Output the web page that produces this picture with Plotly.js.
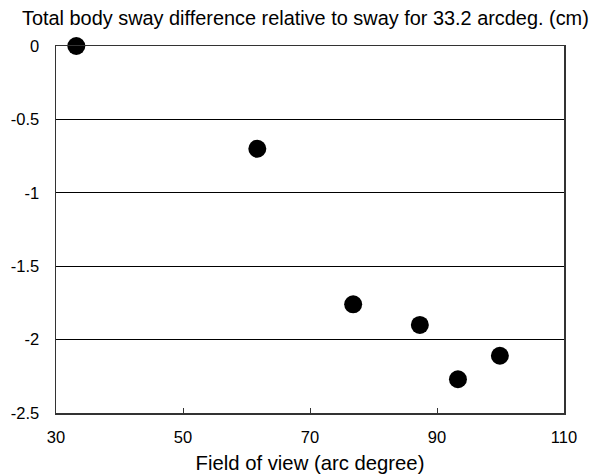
<!DOCTYPE html>
<html>
<head>
<meta charset="utf-8">
<script src="https://cdn.plot.ly/plotly-3.0.1.min.js"></script>
<style>html,body{margin:0;padding:0;background:#fff;}#chart{width:596px;height:474px;}</style>
</head>
<body>
<div id="chart"></div>
<script>
const fieldOfView = [33.2, 61.7, 76.8, 87.3, 93.3, 99.9];
const swayDiff = [0, -0.70, -1.76, -1.90, -2.27, -2.11];
const xTicks = [30, 50, 70, 90, 110];
const yTicks = [0, -0.5, -1, -1.5, -2, -2.5];

const font = "Arial, 'Liberation Sans', sans-serif";
Plotly.newPlot('chart', [{
  x: fieldOfView, y: swayDiff, type: 'scatter', mode: 'markers',
  marker: {size: 18, color: '#000'}, cliponaxis: false, hoverinfo: 'skip'
}], {
  width: 596, height: 474,
  margin: {l: 56, r: 32, t: 46, b: 61},
  paper_bgcolor: '#fff', plot_bgcolor: '#fff',
  showlegend: false,
  font: {family: font, size: 16, color: '#000'},
  title: {text: 'Total body sway difference relative to sway for 33.2 arcdeg. (cm)',
          xref: 'container', x: 22/596, xanchor: 'left',
          yref: 'container', y: 1 - 18.5/474, yanchor: 'middle',
          font: {family: font, size: 19.9, color: '#000'}},
  xaxis: {range: [30, 110], tickvals: xTicks, ticktext: xTicks.map(String),
          ticks: 'inside', ticklen: 5, tickcolor: '#333', tickwidth: 1,
          showline: true, linecolor: '#333', linewidth: 1.5, mirror: true,
          showgrid: false, zeroline: false, tickfont: {size: 16.5},
          ticklabelstandoff: 9, automargin: false,
          title: {text: 'Field of view (arc degree)', font: {size: 20.3}, standoff: 12}},
  yaxis: {range: [-2.5, 0], tickvals: yTicks, ticktext: yTicks.map(String),
          ticks: '', showline: true, linecolor: '#333', linewidth: 1.5, mirror: true,
          showgrid: true, gridcolor: '#000', gridwidth: 1, zeroline: false,
          tickfont: {size: 16.5}, ticklabelstandoff: 12}
}, {staticPlot: true});
</script>
</body>
</html>
